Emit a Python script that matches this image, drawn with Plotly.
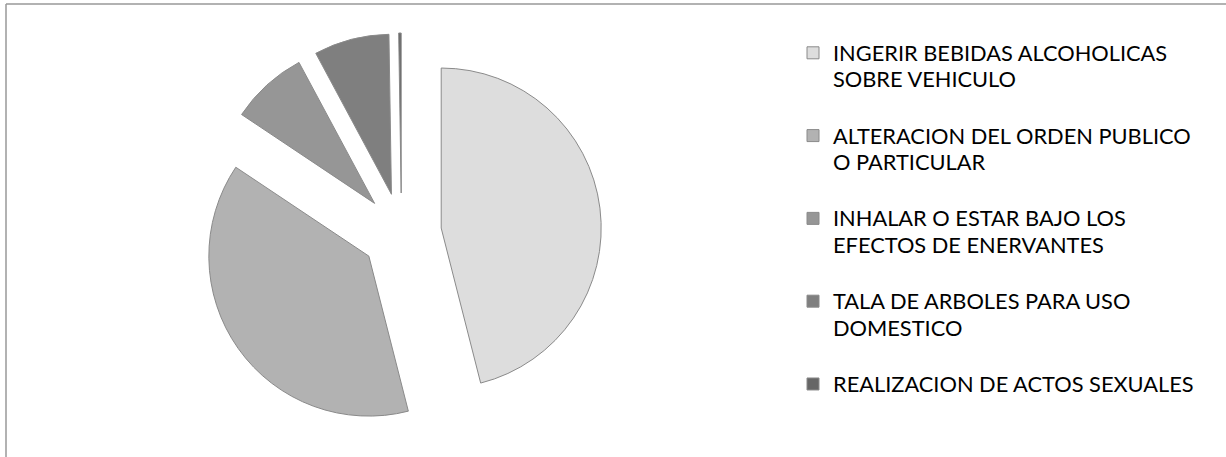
import plotly.graph_objects as go

labels = [
    "INGERIR BEBIDAS ALCOHOLICAS<br>SOBRE VEHICULO",
    "ALTERACION DEL ORDEN PUBLICO<br>O PARTICULAR",
    "INHALAR O ESTAR BAJO LOS<br>EFECTOS DE ENERVANTES",
    "TALA DE ARBOLES PARA USO<br>DOMESTICO",
    "REALIZACION DE ACTOS SEXUALES",
]
values = [46.1, 38.4, 7.8, 7.6, 0.25]
colors = ["#DDDDDD", "#B2B2B2", "#969696", "#7F7F7F", "#666666"]

W, H = 1226, 457
cx, cy = 401.5, 233
half = 200


def legend_text(lbl):
    parts = ['<span style="font-size:21.8px">%s</span>' % p for p in lbl.split("<br>")]
    if len(parts) > 1:
        parts.append("\u00a0")  # blank line -> extra gap between wrapped entries
    return "<br>".join(parts)


fig = go.Figure(go.Pie(
    labels=[legend_text(l) for l in labels],
    values=values,
    sort=False,
    direction="clockwise",
    rotation=0,
    pull=[0.25] * len(values),
    marker=dict(colors=colors, line=dict(color="#8a8a8a", width=1)),
    textinfo="none",
    hoverinfo="skip",
    domain=dict(x=[(cx - half) / W, (cx + half) / W],
                y=[1 - (cy + half) / H, 1 - (cy - half) / H]),
))

fig.update_layout(
    width=W, height=H,
    margin=dict(l=0, r=0, t=0, b=0, autoexpand=False),
    paper_bgcolor="white",
    plot_bgcolor="white",
    font=dict(family="Lato", color="#000000"),
    legend=dict(
        xref="container", yref="container",
        x=793 / W, xanchor="left",
        y=1 - 33 / H, yanchor="top",
        valign="top",
        maxheight=440,
        font=dict(size=20.46, family="Lato", color="#000000"),
        itemclick=False, itemdoubleclick=False,
    ),
    shapes=[
        dict(type="line", xref="paper", yref="paper",
             x0=6 / W, x1=1.0, y0=1 - 4 / H, y1=1 - 4 / H,
             line=dict(color="#999999", width=1.5)),
        dict(type="line", xref="paper", yref="paper",
             x0=6 / W, x1=6 / W, y0=1 - 4 / H, y1=0,
             line=dict(color="#999999", width=1.5)),
    ],
)

fig.write_html("out.html", config={"displayModeBar": False},
               post_script="document.body.style.margin='0';")
